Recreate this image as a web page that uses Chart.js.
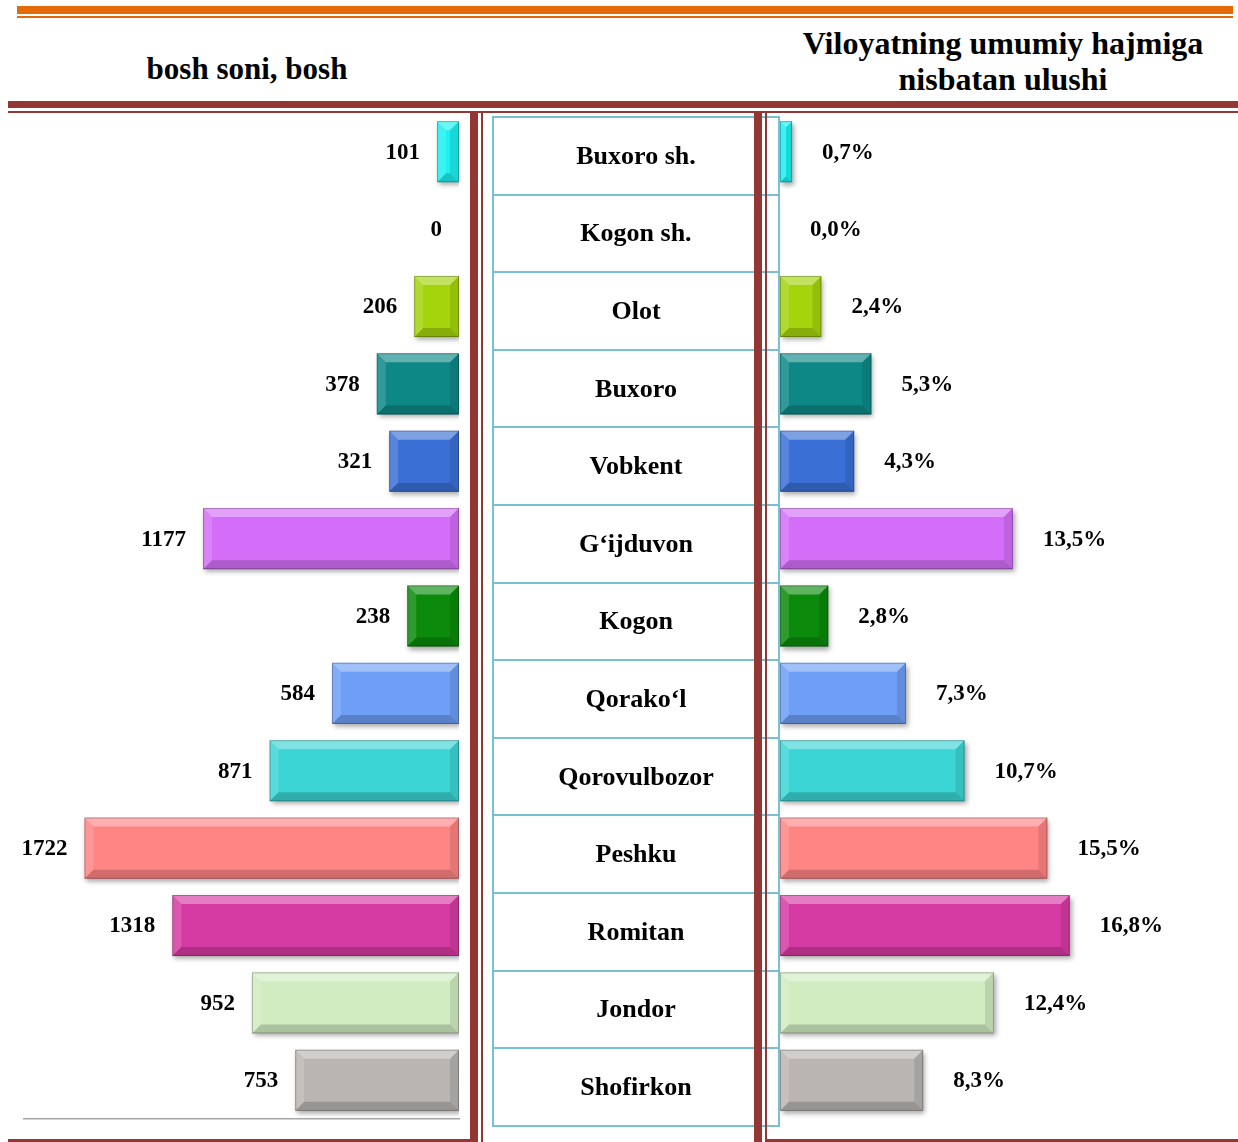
<!DOCTYPE html>
<html>
<head>
<meta charset="utf-8">
<title>Bosh soni</title>
<script src="https://cdn.jsdelivr.net/npm/chart.js@4.4.0/dist/chart.umd.min.js"></script>
<style>
    body {
        margin: 0;
        width: 1238px;
        height: 1142px;
        position: relative;
        overflow: hidden;
        background: #fff;
        font-family: "Liberation Serif", "Times New Roman", serif;
        font-weight: bold;
    }
    .abs { position: absolute; }
    .orange { background: #e36c09; }
    .maroon { background: #943634; }
    .title { font-size: 31px; line-height: 36px; text-align: center; color: #000; }
    #regions {
        position: absolute;
        left: 492px;
        top: 116px;
        width: 288px;
        border-collapse: collapse;
        z-index: 1;
    }
    #regions td {
        border: 2px solid #78c1d2;
        height: 75.6px;
        padding: 0;
        text-align: center;
        font-size: 26px;
    }
    canvas { position: absolute; top: 0; }
</style>
</head>
<body>

<div class="abs orange" style="left:17px; top:6px; width:1216px; height:8px;"></div>
<div class="abs orange" style="left:17px; top:16px; width:1216px; height:2px;"></div>

<div class="abs title" style="left:0; top:51px; width:494px;">bosh soni, bosh</div>
<div class="abs title" style="left:770px; top:25px; width:466px; font-size:32px;">Viloyatning umumiy hajmiga<br>nisbatan ulushi</div>

<div class="abs maroon" style="left:8px; top:101px; width:1230px; height:7px;"></div>
<div class="abs maroon" style="left:8px; top:111px; width:1230px; height:2px;"></div>

<table id="regions"><tbody id="regions-body"></tbody></table>

<!-- column separators -->
<div class="abs maroon" style="left:470px; top:112px; width:8px; height:1030px; z-index:2;"></div>
<div class="abs maroon" style="left:481px; top:112px; width:2px; height:1030px; z-index:2;"></div>
<div class="abs maroon" style="left:754px; top:112px; width:8px; height:1030px; z-index:2;"></div>
<div class="abs maroon" style="left:765px; top:112px; width:2px; height:1030px; z-index:2;"></div>
<div class="abs maroon" style="left:8px; top:1139px; width:462px; height:3px;"></div>
<div class="abs maroon" style="left:765px; top:1139px; width:473px; height:3px;"></div>

<canvas id="heads-chart" width="470" height="1142" style="left:0;"></canvas>
<canvas id="share-chart" width="472" height="1142" style="left:766px;"></canvas>

<script>
const regions = ['Buxoro sh.', 'Kogon sh.', 'Olot', 'Buxoro', 'Vobkent', 'G\u2018ijduvon', 'Kogon',
    'Qorako\u2018l', 'Qorovulbozor', 'Peshku', 'Romitan', 'Jondor', 'Shofirkon'];
const headCounts = [101, 0, 206, 378, 321, 1177, 238, 584, 871, 1722, 1318, 952, 753];
const sharePercents = [0.7, 0.0, 2.4, 5.3, 4.3, 13.5, 2.8, 7.3, 10.7, 15.5, 16.8, 12.4, 8.3];
const barColors = ['#1cf0f0', '#1cf0f0', '#a4d40c', '#0d8886', '#3a6fd6', '#d46ef8', '#0b8a0b',
    '#6e9ef5', '#3bd5d5', '#ff8484', '#d63aa3', '#d2ecc2', '#b9b5b3'];

// Region names in the middle column
const tbody = document.getElementById('regions-body');
regions.forEach(name => {
    const row = document.createElement('tr');
    row.innerHTML = `<td>${name}</td>`;
    tbody.appendChild(row);
});

// Drop shadow under the bars, then bevel faces on top
const bevelPlugin = {
    id: 'bevel',
    beforeDatasetDraw(chart) {
        const ctx = chart.ctx;
        ctx.save();
        ctx.shadowColor = 'rgba(0, 0, 0, 0.35)';
        ctx.shadowBlur = 5;
        ctx.shadowOffsetX = 2;
        ctx.shadowOffsetY = 3;
    },
    afterDatasetDraw(chart, args) {
        const ctx = chart.ctx;
        ctx.restore();
        args.meta.data.forEach(bar => {
            const p = bar.getProps(['x', 'y', 'base', 'height'], true);
            const l = Math.min(p.x, p.base), r = Math.max(p.x, p.base);
            const t = p.y - p.height / 2, btm = p.y + p.height / 2;
            const w = r - l;
            if (w < 1) return;
            const b = Math.min(9, w / 2, p.height / 2);
            const face = (pts, fill) => {
                ctx.beginPath();
                ctx.moveTo(pts[0][0], pts[0][1]);
                pts.slice(1).forEach(pt => ctx.lineTo(pt[0], pt[1]));
                ctx.closePath();
                ctx.fillStyle = fill;
                ctx.fill();
            };
            face([[l, t], [r, t], [r - b, t + b], [l + b, t + b]], 'rgba(255, 255, 255, 0.35)');
            face([[l, t], [l + b, t + b], [l + b, btm - b], [l, btm]], 'rgba(255, 255, 255, 0.15)');
            face([[r, t], [r - b, t + b], [r - b, btm - b], [r, btm]], 'rgba(0, 0, 0, 0.10)');
            face([[l, btm], [r, btm], [r - b, btm - b], [l + b, btm - b]], 'rgba(0, 0, 0, 0.18)');
            ctx.strokeStyle = 'rgba(0, 0, 0, 0.25)';
            ctx.lineWidth = 1;
            ctx.strokeRect(l + 0.5, t + 0.5, w - 1, p.height - 1);
        });
    }
};

// Value text beside the end of each bar
const valueLabelPlugin = {
    id: 'valueLabels',
    afterDatasetsDraw(chart, args, opts) {
        const ctx = chart.ctx;
        const values = chart.data.datasets[0].data;
        ctx.save();
        ctx.font = 'bold 23px "Liberation Serif", serif';
        ctx.fillStyle = '#000';
        ctx.textBaseline = 'middle';
        ctx.textAlign = opts.side === 'left' ? 'right' : 'left';
        chart.getDatasetMeta(0).data.forEach((bar, i) => {
            const x = opts.side === 'left' ? bar.x - opts.gap : bar.x + opts.gap;
            ctx.fillText(opts.format(values[i]), x, bar.y + 1);
        });
        ctx.restore();
    }
};

function buildChart(canvasId, values, max, reverse, padding, labelOpts, showBase) {
    return new Chart(document.getElementById(canvasId), {
        type: 'bar',
        data: {
            labels: regions,
            datasets: [{
                data: values,
                backgroundColor: barColors,
                borderWidth: 0,
                barPercentage: 0.79,
                categoryPercentage: 1.0
            }]
        },
        options: {
            indexAxis: 'y',
            responsive: false,
            animation: false,
            devicePixelRatio: 1,
            layout: { padding: padding },
            scales: {
                x: {
                    reverse: reverse,
                    min: 0,
                    max: max,
                    ticks: { display: false },
                    grid: { display: false, drawTicks: false },
                    border: { display: showBase, color: '#a6a6a6', width: 1.5 }
                },
                y: { display: false }
            },
            plugins: {
                legend: { display: false },
                tooltip: { enabled: false },
                valueLabels: labelOpts
            }
        },
        plugins: [bevelPlugin, valueLabelPlugin]
    });
}

buildChart('heads-chart', headCounts, 2000, true,
    { left: 24, right: 11, top: 113, bottom: 23 },
    { side: 'left', gap: 17, format: v => String(v) }, true);

buildChart('share-chart', sharePercents, 20, false,
    { left: 14, right: 113, top: 113, bottom: 23 },
    { side: 'right', gap: 30, format: v => v.toFixed(1).replace('.', ',') + '%' }, false);
</script>
</body>
</html>
